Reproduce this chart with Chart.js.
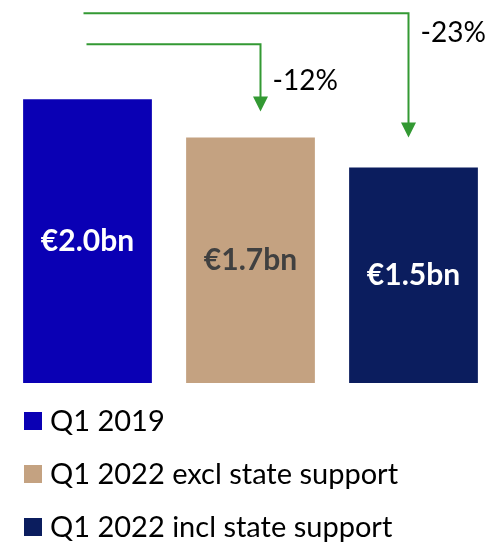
<!DOCTYPE html>
<html>
<head>
<meta charset="utf-8">
<script src="https://cdn.jsdelivr.net/npm/chart.js@4"></script>
<style>
  html, body { margin: 0; padding: 0; background: #fff; }
  #wrap { width: 501px; height: 549px; }
</style>
</head>
<body>
<div id="wrap"><canvas id="chart" width="501" height="549"></canvas></div>
<script>
// data
const categories = ['Q1 2019', 'Q1 2022 excl state support', 'Q1 2022 incl state support'];
const values = [2.0, 1.73, 1.52];
const changeLabels = ['-12%', '-23%'];
const barColors = ['#0A00B4', '#C4A281', '#0B1D5E'];
const labelColors = ['#ffffff', '#404040', '#ffffff'];
const arrowColor = '#339933';
const fontFamily = 'Lato, "Open Sans", sans-serif';

// value labels inside bars
const valueLabels = {
  id: 'valueLabels',
  afterDatasetsDraw(chart) {
    const ctx = chart.ctx;
    const meta = chart.getDatasetMeta(0);
    ctx.save();
    ctx.font = 'bold 30px ' + fontFamily;
    ctx.textAlign = 'center';
    ctx.textBaseline = 'middle';
    meta.data.forEach((bar, i) => {
      ctx.fillStyle = labelColors[i];
      ctx.fillText('€' + values[i].toFixed(1) + 'bn', bar.x, (bar.y + bar.base) / 2);
    });
    ctx.restore();
  }
};

// green arrows from first bar to the others
const changeArrows = {
  id: 'changeArrows',
  afterDraw(chart) {
    const ctx = chart.ctx;
    const bars = chart.getDatasetMeta(0).data;
    const top0 = bars[0].y;
    const arrows = [
      { to: 2, y: top0 - 86, x0: bars[0].x - 4, dx: -5, gap: 30, textDy: 20, text: changeLabels[1] },
      { to: 1, y: top0 - 55, x0: bars[0].x - 1, dx: 10, gap: 26, textDy: 37, text: changeLabels[0] }
    ];
    ctx.save();
    ctx.lineWidth = 2;
    arrows.forEach(a => {
      const b = bars[a.to];
      const x1 = b.x + a.dx;
      const tip = b.y - a.gap;
      ctx.strokeStyle = arrowColor;
      ctx.fillStyle = arrowColor;
      ctx.beginPath();
      ctx.moveTo(a.x0, a.y);
      ctx.lineTo(x1, a.y);
      ctx.lineTo(x1, tip - 12);
      ctx.stroke();
      ctx.beginPath();
      ctx.moveTo(x1 - 7.5, tip - 15);
      ctx.lineTo(x1 + 7.5, tip - 15);
      ctx.lineTo(x1, tip);
      ctx.closePath();
      ctx.fill();
      ctx.font = '28px ' + fontFamily;
      ctx.fillStyle = '#000';
      ctx.textAlign = 'left';
      ctx.textBaseline = 'middle';
      ctx.fillText(a.text, x1 + 12, a.y + a.textDy);
    });
    ctx.restore();
  }
};

// stacked legend under the bars
const sideLegend = {
  id: 'sideLegend',
  afterDraw(chart) {
    const ctx = chart.ctx;
    const base = chart.chartArea.bottom;
    ctx.save();
    ctx.font = '29px ' + fontFamily;
    ctx.textBaseline = 'middle';
    ctx.textAlign = 'left';
    categories.forEach((c, i) => {
      const cy = base + 38 + i * 53;
      ctx.fillStyle = barColors[i];
      ctx.fillRect(24, cy - 9, 18, 18);
      ctx.fillStyle = '#000';
      ctx.fillText(c, 50, cy + 1);
    });
    ctx.restore();
  }
};

new Chart(document.getElementById('chart'), {
  type: 'bar',
  data: {
    labels: categories,
    datasets: [{
      data: values,
      backgroundColor: barColors,
      barPercentage: 0.79,
      categoryPercentage: 1
    }]
  },
  options: {
    responsive: false,
    animation: false,
    layout: { padding: { left: 6, right: 6, top: 0, bottom: 166 } },
    plugins: {
      legend: { display: false },
      tooltip: { enabled: false }
    },
    scales: {
      x: { display: false },
      y: { display: false, min: 0, max: 2.7 }
    }
  },
  plugins: [valueLabels, changeArrows, sideLegend]
});
</script>
</body>
</html>
